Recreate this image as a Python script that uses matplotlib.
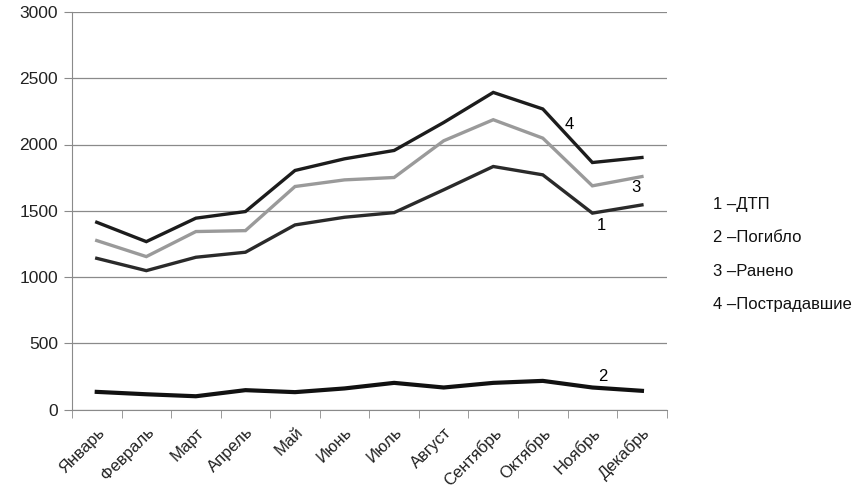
import matplotlib.pyplot as plt
import numpy as np

months = ["Январь", "Февраль", "Март", "Апрель", "Май", "Июнь",
          "Июль", "Август", "Сентябрь", "Октябрь", "Ноябрь", "Декабрь"]

dtp = [1141, 1048, 1149, 1187, 1393, 1451, 1486, 1658, 1834, 1771, 1482, 1544]
pogiblo = [133, 115, 100, 146, 131, 159, 201, 166, 201, 216, 166, 141]
raneno = [1275, 1154, 1343, 1350, 1683, 1733, 1751, 2028, 2187, 2048, 1688, 1758]
postradavshie = [1413, 1267, 1444, 1494, 1804, 1892, 1955, 2166, 2393, 2268, 1864, 1902]

legend_lines = ["1 –ДТП", "2 –Погибло", "3 –Ранено", "4 –Пострадавшие"]

plt.rcParams['font.family'] = ['Liberation Sans', 'DejaVu Sans']

fig = plt.figure(figsize=(8.67, 5.0), dpi=100)
ax = fig.add_axes([0.083, 0.181, 0.686, 0.795])

x = np.arange(len(months))
ax.plot(x, postradavshie, color='#1c1c1c', linewidth=2.4, solid_joinstyle='miter')
ax.plot(x, raneno, color='#9a9a9a', linewidth=2.4, solid_joinstyle='miter')
ax.plot(x, dtp, color='#2a2a2a', linewidth=2.4, solid_joinstyle='miter')
ax.plot(x, pogiblo, color='#111111', linewidth=3.0, solid_joinstyle='miter')

ax.set_xlim(-0.5, len(months) - 0.5)
ax.set_ylim(0, 3000)
ax.set_yticks(np.arange(0, 3001, 500))
ax.yaxis.grid(True, color='#8a8a8a', linewidth=0.9)
ax.set_axisbelow(True)

for side in ['top', 'right']:
    ax.spines[side].set_visible(False)
ax.spines['left'].set_color('#8a8a8a')
ax.spines['bottom'].set_color('#8a8a8a')

ax.set_xticks(x)
ax.set_xticklabels(months, rotation=45, ha='right', rotation_mode='anchor',
                   fontsize=12, color='#222222')
ax.set_xticks(np.arange(-0.5, len(months)), minor=True)
ax.tick_params(axis='x', which='major', length=0, pad=11)
ax.tick_params(axis='x', which='minor', length=6, color='#8a8a8a')
ax.tick_params(axis='y', length=6, color='#8a8a8a', labelsize=12.5, labelcolor='#222222', pad=4)

# series numbers near the lines
ax.text(9.54, 2149, "4", fontsize=12, va='center', ha='center')
ax.text(10.87, 1673, "3", fontsize=12, va='center', ha='center')
ax.text(10.19, 1385, "1", fontsize=12, va='center', ha='center')
ax.text(10.21, 252, "2", fontsize=12, va='center', ha='center')

for i, label in enumerate(legend_lines):
    fig.text(0.822, 0.59 - i * 0.066, label, fontsize=12, color='#111111', va='center')

fig.savefig("out.png", dpi=100)
